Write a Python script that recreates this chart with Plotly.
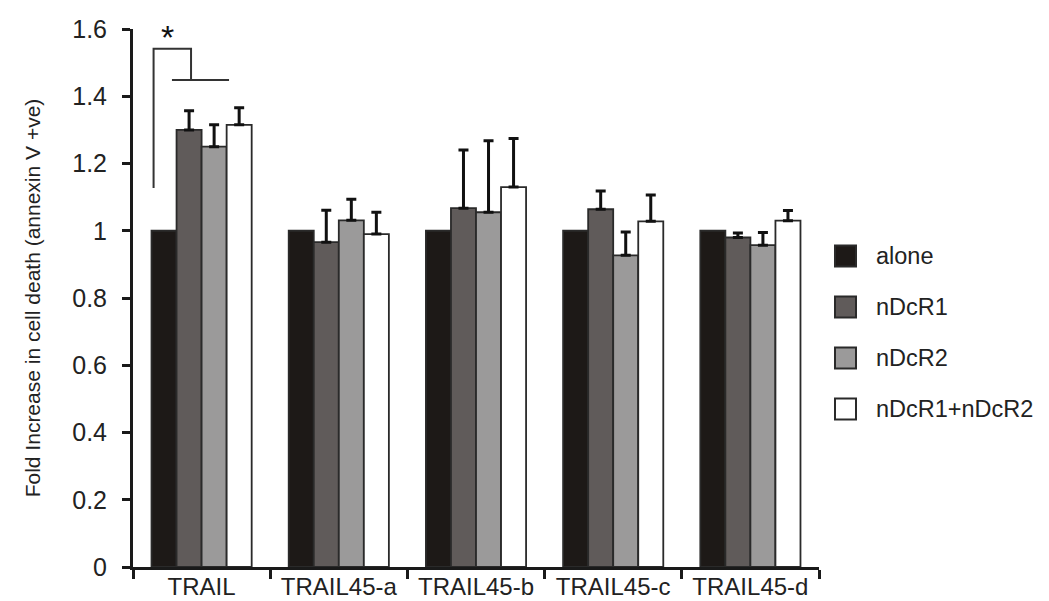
import plotly.graph_objects as go

categories = ["TRAIL", "TRAIL45-a", "TRAIL45-b", "TRAIL45-c", "TRAIL45-d"]
series_names = ["alone", "nDcR1", "nDcR2", "nDcR1+nDcR2"]
alone = [1.0, 1.0, 1.0, 1.0, 1.0]
ndcr1 = [1.30, 0.966, 1.067, 1.064, 0.98]
ndcr2 = [1.25, 1.031, 1.055, 0.927, 0.957]
ndcr12 = [1.315, 0.99, 1.13, 1.028, 1.03]
alone_err = [0, 0, 0, 0, 0]
ndcr1_err = [0.057, 0.095, 0.173, 0.054, 0.013]
ndcr2_err = [0.065, 0.063, 0.213, 0.069, 0.038]
ndcr12_err = [0.051, 0.065, 0.144, 0.078, 0.03]
colors = ["#1d1917", "#605b5a", "#9b9a9a", "#ffffff"]
y_ticks = [0, 0.2, 0.4, 0.6, 0.8, 1, 1.2, 1.4, 1.6]

# significance bracket (category-index x, data y)
bracket_x = [-0.35, -0.35, -0.077, -0.077]
bracket_y = [1.127, 1.541, 1.541, 1.448]
bar_line_x = [-0.216, 0.2]
bar_line_y = 1.448
star_x, star_y = -0.25, 1.575

values = [alone, ndcr1, ndcr2, ndcr12]
errs = [alone_err, ndcr1_err, ndcr2_err, ndcr12_err]

W, H = 1049, 601
L, R, T, B = 125, 238, 21, 42
pw, ph = W - L - R, H - T - B


def px_x(px):
    return (px - L) / pw


def px_y(py):
    return (H - B - py) / ph


fig = go.Figure()
for name, v, e, c in zip(series_names, values, errs, colors):
    fig.add_trace(go.Bar(
        x=categories, y=v, name=name, showlegend=False,
        marker=dict(color=c, line=dict(color="#2a2a2a", width=1.8)),
        error_y=dict(type="data", array=e, arrayminus=[0] * len(e), symmetric=False,
                     visible=any(x > 0 for x in e), color="#111111", thickness=3, width=5),
    ))

# legend drawn as squares + labels
for i, (name, c) in enumerate(zip(series_names, colors)):
    cy = 248 + 51 * i
    fig.add_shape(type="rect", xref="paper", yref="paper",
                  x0=px_x(827), x1=px_x(848), y0=px_y(cy + 10.5), y1=px_y(cy - 10.5),
                  fillcolor=c, line=dict(color="#2a2a2a", width=2))
    fig.add_annotation(xref="paper", yref="paper", x=px_x(866), y=px_y(cy),
                       xanchor="left", yanchor="middle", text=name, showarrow=False,
                       font=dict(size=23.5, color="#222222"))

# bracket
fig.add_shape(type="path", xref="x", yref="y",
              path="M {} {} L {} {} L {} {} L {} {}".format(
                  bracket_x[0], bracket_y[0], bracket_x[1], bracket_y[1],
                  bracket_x[2], bracket_y[2], bracket_x[3], bracket_y[3]),
              line=dict(color="#333333", width=2))
fig.add_shape(type="line", xref="x", yref="y",
              x0=bar_line_x[0], x1=bar_line_x[1], y0=bar_line_y, y1=bar_line_y,
              line=dict(color="#333333", width=2))
fig.add_annotation(x=star_x, y=star_y, xref="x", yref="y", text="*", showarrow=False,
                   yanchor="middle", font=dict(size=34, color="#111111"))

fig.update_layout(
    width=W, height=H,
    margin=dict(l=L, r=R, t=T, b=B, autoexpand=False),
    plot_bgcolor="white", paper_bgcolor="white",
    barmode="group", bargap=0.27, bargroupgap=0,
    font=dict(family="Liberation Sans, Arial, sans-serif", color="#222222"),
    showlegend=False,
)
fig.update_xaxes(
    type="category", range=[-0.5, 4.5], showline=True, linecolor="#1a1a1a", linewidth=3,
    ticks="outside", tickson="boundaries", ticklen=9, tickwidth=3, tickcolor="#1a1a1a",
    ticklabelstandoff=-4,
    tickfont=dict(size=24), showgrid=False, zeroline=False, automargin=False,
)
fig.update_yaxes(
    range=[0, 1.6], tickvals=y_ticks, showline=True, linecolor="#1a1a1a", linewidth=3,
    ticks="outside", ticklen=8, tickwidth=3, tickcolor="#1a1a1a", ticklabelstandoff=10,
    tickfont=dict(size=25), showgrid=False, zeroline=False, automargin=False,
    title=dict(text="Fold Increase in cell death (annexin V +ve)", font=dict(size=21), standoff=26),
)
fig.write_html("out.html")
